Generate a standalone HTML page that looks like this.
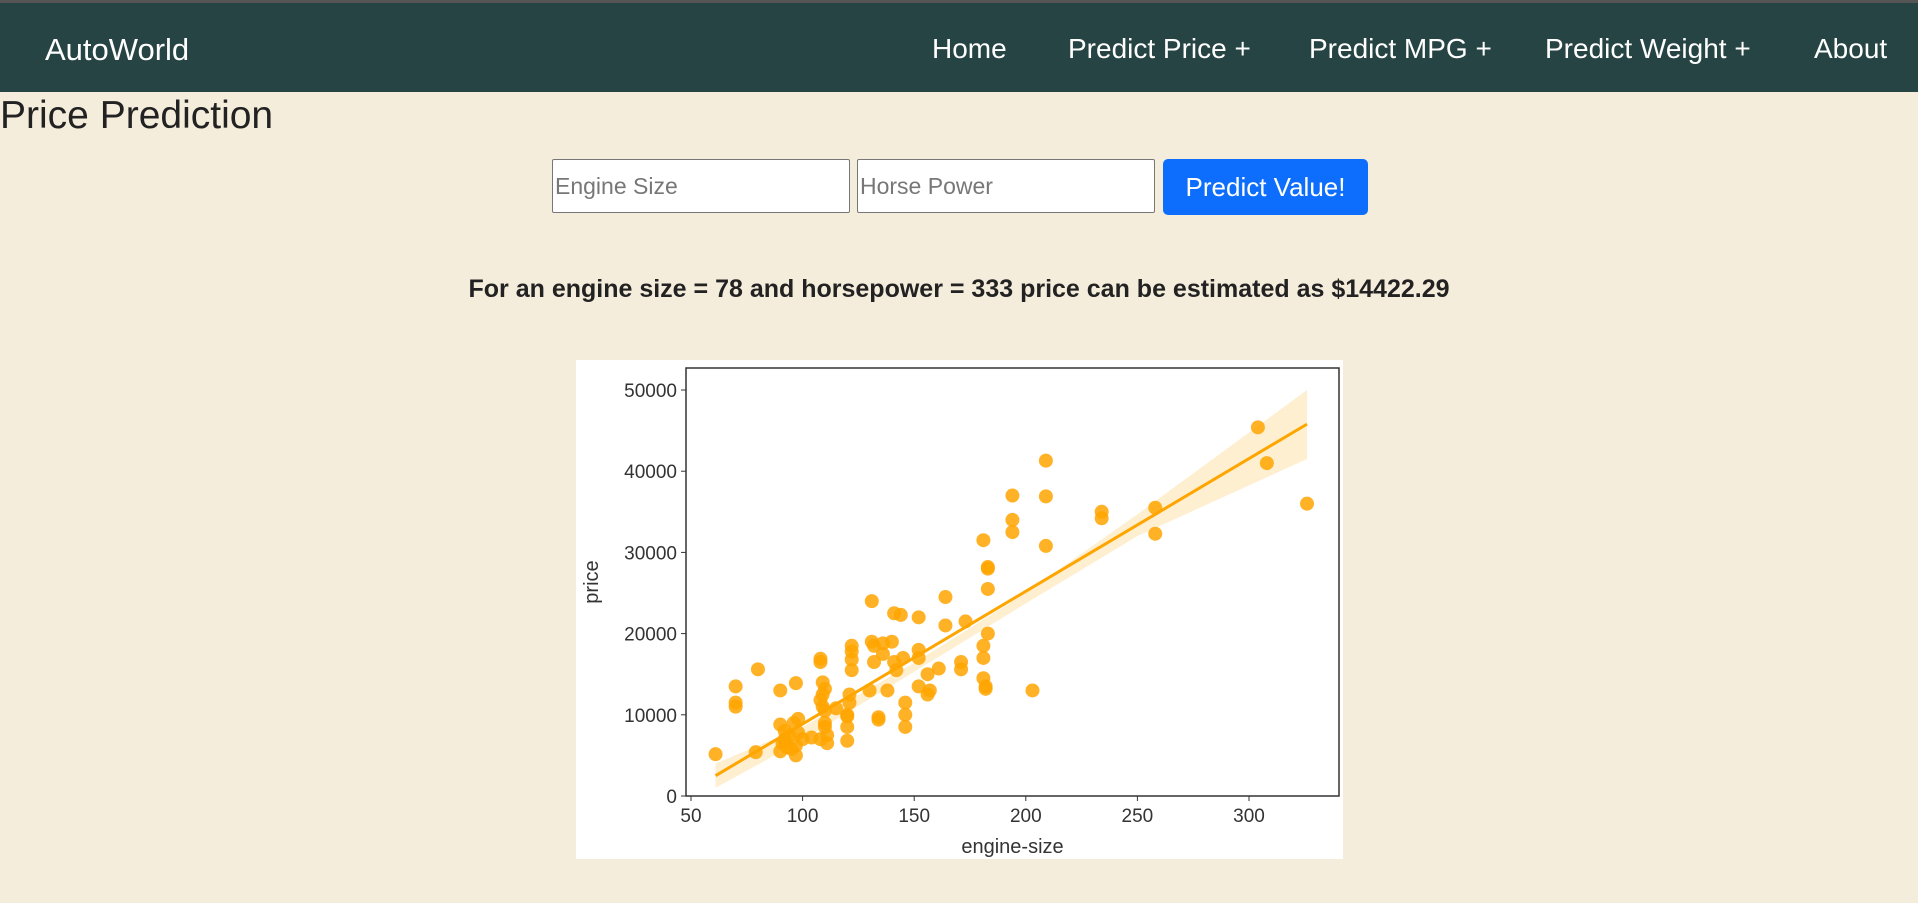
<!DOCTYPE html>
<html><head><meta charset="utf-8"><style>
body{margin:0;width:1918px;height:903px;background:#f5eddc;font-family:"Liberation Sans",sans-serif;position:relative;overflow:hidden}
.nav{position:absolute;left:0;top:0;width:1918px;height:92px;background:#264443;border-top:3px solid #555;box-sizing:border-box}
.nav span{position:absolute;top:30px;color:#fff;font-size:28px}
h1{position:absolute;left:0;top:94px;margin:0;font-weight:normal;font-size:39px;color:#222}
.in{position:absolute;top:159px;height:54px;width:298px;box-sizing:border-box;border:1px solid #777;background:#fff;border-radius:2px;font-size:23px;color:#777;padding:13px 2px;font-family:"Liberation Sans",sans-serif}
.btn{position:absolute;left:1163px;top:159px;width:205px;height:56px;background:#0d6efd;border-radius:5px;color:#fff;font-size:26px;text-align:center;line-height:56px}
.res{position:absolute;left:0;width:1918px;top:275px;text-align:center;font-weight:bold;font-size:25px;color:#222}
</style></head><body>
<div class="nav">
<span style="left:45px;font-size:31px;top:29px">AutoWorld</span>
<span style="left:932px">Home</span>
<span style="left:1068px">Predict Price +</span>
<span style="left:1309px">Predict MPG +</span>
<span style="left:1545px">Predict Weight +</span>
<span style="left:1814px">About</span>
</div>
<h1>Price Prediction</h1>
<div class="in" style="left:552px">Engine Size</div>
<div class="in" style="left:857px">Horse Power</div>
<div class="btn">Predict Value!</div>
<div class="res">For an engine size = 78 and horsepower = 333 price can be estimated as $14422.29</div>
<svg id="chart" width="1918" height="903" style="position:absolute;left:0;top:0"></svg>
<script>
const xTicks=[50,100,150,200,250,300];
const yTicks=[0,10000,20000,30000,40000,50000];
const engineSize=[61,70,70,70,79,80,90,90,91,92,92,93,94,95,96,97,97,97,98,98,90,92,108,108,108,109,109,109,110,110,110,111,111,108,110,120,120,120,121,121,122,122,122,122,120,130,131,131,132,132,134,134,136,136,138,140,141,141,142,144,146,146,146,145,152,152,152,152,156,156,157,161,164,164,171,171,173,181,183,183,183,183,181,181,181,182,182,194,194,194,203,209,209,209,234,234,258,258,304,308,326,100,104,115];
const price=[5150,13500,11500,11000,5400,15600,13000,5500,6500,7000,8000,6000,7500,5800,9000,13900,5000,6200,7800,9500,8800,6800,16500,16900,7000,11000,12500,14000,9000,10500,13200,7500,6500,11800,8500,6800,8500,10000,11500,12500,15500,16800,18500,17800,9800,13000,24000,19000,18500,16500,9700,9400,18800,17500,13000,19000,22500,16500,15500,22300,11500,10000,8500,17000,22000,18000,17000,13500,15000,12500,13000,15700,24500,21000,16500,15600,21500,31500,28000,28200,25500,20000,18500,17000,14500,13500,13200,37000,34000,32500,13000,41300,36900,30800,35000,34200,35500,32300,45400,41000,36000,7000,7200,10800];
const fitX=[61,326];
const fitY=[2500,45800];
const bandX=[61,100,150,200,250,326];
const bandLo=[1000,6900,15300,23700,32000,41500];
const bandHi=[4000,8500,16400,25000,34700,50000];
const L=686,R=1339,T=368,B=796;
const X=v=>691+(v-50)*(1249-691)/250;
const Y=v=>B-v*(B-390)/50000;
const svg=document.getElementById('chart');const NS='http://www.w3.org/2000/svg';
function mk(t,a,p){const e=document.createElementNS(NS,t);for(const k in a)e.setAttribute(k,a[k]);(p||svg).appendChild(e);return e;}
const bg=mk('rect',{x:576,y:360,width:767,height:499,fill:'#fff'});


const band=mk('polygon',{points:bandX.map((x,i)=>X(x)+','+Y(bandHi[i])).concat(bandX.map((x,i)=>X(x)+','+Y(bandLo[i])).reverse()).join(' '),fill:'#ffa500','fill-opacity':0.18});


engineSize.forEach((x,i)=>{const c=mk('circle',{cx:X(x),cy:Y(price[i]),r:7,fill:'#ffa500','fill-opacity':0.85});

});
const ln=mk('line',{x1:X(fitX[0]),y1:Y(fitY[0]),x2:X(fitX[1]),y2:Y(fitY[1]),stroke:'#ffa500','stroke-width':3});


const fr=mk('rect',{x:L,y:T,width:R-L,height:B-T,fill:'none',stroke:'#333','stroke-width':1.5});


xTicks.forEach(v=>{mk('line',{x1:X(v),x2:X(v),y1:B,y2:B+5,stroke:'#333'});const t=mk('text',{x:X(v),y:B+26,'text-anchor':'middle','font-size':19,fill:'#333'});t.textContent=v;

});
yTicks.forEach(v=>{mk('line',{x1:L-5,x2:L,y1:Y(v),y2:Y(v),stroke:'#333'});const t=mk('text',{x:L-9,y:Y(v)+7,'text-anchor':'end','font-size':19,fill:'#333'});t.textContent=v;

});
const xt=mk('text',{x:(L+R)/2,y:853,'text-anchor':'middle','font-size':20,fill:'#333'});xt.textContent='engine-size';


const yt=mk('text',{x:598,y:(T+B)/2,'text-anchor':'middle','font-size':20,fill:'#333',transform:'rotate(-90 598 '+(T+B)/2+')'});yt.textContent='price';


</script>
</body></html>
